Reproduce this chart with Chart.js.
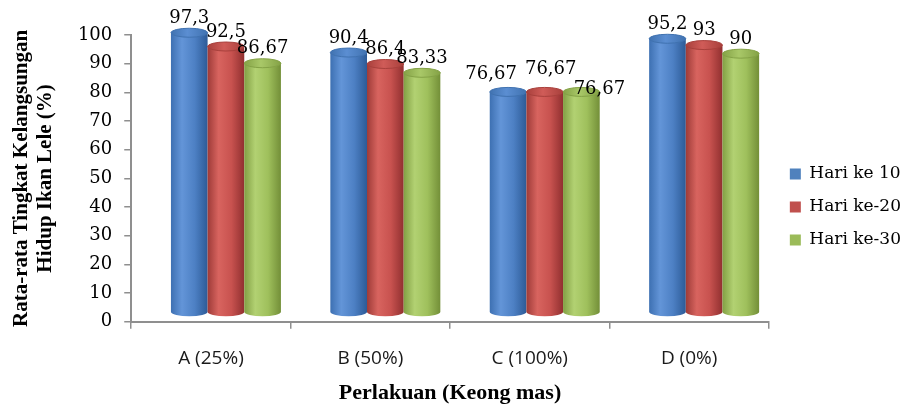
<!DOCTYPE html>
<html>
<head>
<meta charset="utf-8">
<script src="https://cdn.jsdelivr.net/npm/chart.js@4.4.0/dist/chart.umd.min.js"></script>
<style>
  html, body { margin: 0; padding: 0; background: #ffffff; }
  #wrap { width: 906px; height: 407px; position: relative; }
</style>
</head>
<body>
<div id="wrap"><canvas id="chart"></canvas></div>
<script>
// Survival rate of catfish (lele) per treatment, on day 10, 20 and 30
const categories = ['A (25%)', 'B (50%)', 'C (100%)', 'D (0%)'];
const seriesNames = ['Hari ke 10', 'Hari ke-20', 'Hari ke-30'];
const hari10 = [97.3, 90.4, 76.67, 95.2];
const hari20 = [92.5, 86.4, 76.67, 93];
const hari30 = [86.67, 83.33, 76.67, 90];
const yTickValues = [0, 10, 20, 30, 40, 50, 60, 70, 80, 90, 100];

const seriesValues = [hari10, hari20, hari30];

// Colour ramps for the cylinder bodies
const shades = [
  { flat: '#4F81BD', edge: '#3d70b2', light: '#6395d8', mid: '#4d80c4', dark: '#2d5b97', cap: '#5b8ed2', rim: '#4072b0' },
  { flat: '#C0504D', edge: '#9e3b38', light: '#d8645f', mid: '#c8524f', dark: '#913030', cap: '#d05c58', rim: '#a8403c' },
  { flat: '#9BBB59', edge: '#82a044', light: '#b2d172', mid: '#9fc05c', dark: '#738f38', cap: '#a9c868', rim: '#84a246' }
];

// 3D look: the cylinders sit slightly behind the axis plane
const DEPTH_X = 15;
const DEPTH_Y = -10;
const CAP_RY = 4.5;

// Hand-placed nudges for the crowded value labels of group C: series-category -> [dx, dy]
const labelNudge = { '0-2': [-17, -3], '1-2': [6, -8], '2-2': [18, 12] };

const fmt = v => String(v).replace('.', ',');

function drawCylinder(ctx, cx, top, bottom, w, s) {
  const rx = w / 2;
  const left = cx - rx;
  const g = ctx.createLinearGradient(left, 0, left + w, 0);
  g.addColorStop(0, s.edge);
  g.addColorStop(0.3, s.light);
  g.addColorStop(0.65, s.mid);
  g.addColorStop(1, s.dark);
  ctx.beginPath();
  ctx.moveTo(left, top);
  ctx.lineTo(left, bottom);
  ctx.ellipse(cx, bottom, rx, CAP_RY, 0, Math.PI, 0, true);
  ctx.lineTo(left + w, top);
  ctx.closePath();
  ctx.fillStyle = g;
  ctx.fill();
  // top cap
  ctx.beginPath();
  ctx.ellipse(cx, top, rx, CAP_RY, 0, 0, Math.PI * 2);
  const cg = ctx.createLinearGradient(left, 0, left + w, 0);
  cg.addColorStop(0, s.rim);
  cg.addColorStop(0.45, s.cap);
  cg.addColorStop(1, s.rim);
  ctx.fillStyle = cg;
  ctx.fill();
  ctx.lineWidth = 1;
  ctx.strokeStyle = s.rim;
  ctx.stroke();
}

const cylinderPlugin = {
  id: 'cylinders',
  afterLayout(chart) {
    // keep the legend column centred on the canvas, just right of the plot
    const lg = chart.legend;
    const w = lg.right - lg.left;
    lg.left = chart.chartArea.right + 5;
    lg.right = lg.left + w;
    lg.top = 0;
    lg.bottom = 414;
  },
  beforeDatasetDraw() { return false; },
  afterDatasetsDraw(chart) {
    const ctx = chart.ctx;
    const yScale = chart.scales.y;
    ctx.save();
    for (let i = 0; i < categories.length; i++) {
      chart.data.datasets.forEach((ds, d) => {
        const bar = chart.getDatasetMeta(d).data[i];
        const cx = bar.x + DEPTH_X;
        const top = yScale.getPixelForValue(ds.data[i]) + DEPTH_Y;
        const bottom = yScale.getPixelForValue(0) + DEPTH_Y;
        drawCylinder(ctx, cx, top, bottom, bar.width, shades[d]);
      });
    }
    // value labels above each cylinder
    ctx.fillStyle = '#000';
    ctx.font = '18px "DejaVu Serif"';
    ctx.textAlign = 'center';
    ctx.textBaseline = 'bottom';
    chart.data.datasets.forEach((ds, d) => {
      chart.getDatasetMeta(d).data.forEach((bar, i) => {
        const top = yScale.getPixelForValue(ds.data[i]) + DEPTH_Y;
        const [nx, ny] = labelNudge[d + '-' + i] || [0, 0];
        ctx.fillText(fmt(ds.data[i]), bar.x + DEPTH_X + nx, top - CAP_RY - 1 + ny);
      });
    });
    ctx.restore();
  }
};

new Chart(document.getElementById('chart'), {
  type: 'bar',
  data: {
    labels: categories,
    datasets: seriesNames.map((name, d) => ({
      label: name,
      data: seriesValues[d],
      backgroundColor: shades[d].flat,
      borderWidth: 0,
      categoryPercentage: 0.69,
      barPercentage: 1.0
    }))
  },
  plugins: [cylinderPlugin],
  options: {
    responsive: true,
    maintainAspectRatio: false,
    animation: false,
    layout: { padding: { top: 35, right: 0, bottom: 0, left: 0 } },
    plugins: {
      tooltip: { enabled: false },
      legend: {
        position: 'right',
        align: 'center',
        labels: {
          boxWidth: 11,
          boxHeight: 11,
          padding: 16,
          color: '#000',
          font: { family: '"DejaVu Serif"', size: 17 }
        }
      }
    },
    scales: {
      x: {
        offset: true,
        grid: {
          offset: true,
          drawOnChartArea: false,
          drawTicks: true,
          tickLength: 7,
          color: '#8f8f8f',
          lineWidth: 1.5
        },
        border: { color: '#8f8f8f', width: 2 },
        ticks: {
          color: '#1a1a1a',
          padding: 18,
          font: { family: '"Open Sans"', size: 19 }
        },
        title: {
          display: true,
          text: 'Perlakuan (Keong mas)',
          color: '#000',
          padding: { top: -7, bottom: 0 },
          font: { family: '"Liberation Serif"', size: 22, weight: 'bold' }
        }
      },
      y: {
        min: 0,
        max: 100,
        afterBuildTicks(scale) { scale.ticks = yTickValues.map(v => ({ value: v })); },
        grid: {
          drawOnChartArea: false,
          drawTicks: true,
          tickLength: 7,
          color: '#8f8f8f',
          lineWidth: 1.5
        },
        border: { color: '#8f8f8f', width: 2 },
        ticks: {
          color: '#000',
          padding: 12,
          font: { family: '"DejaVu Serif"', size: 18 }
        },
        title: {
          display: true,
          text: ['Rata-rata Tingkat Kelangsungan', 'Hidup Ikan Lele (%)'],
          color: '#000',
          padding: { top: 10, bottom: 8 },
          font: { family: '"Liberation Serif"', size: 21, weight: 'bold', lineHeight: 1.14 }
        }
      }
    }
  }
});
</script>
</body>
</html>
